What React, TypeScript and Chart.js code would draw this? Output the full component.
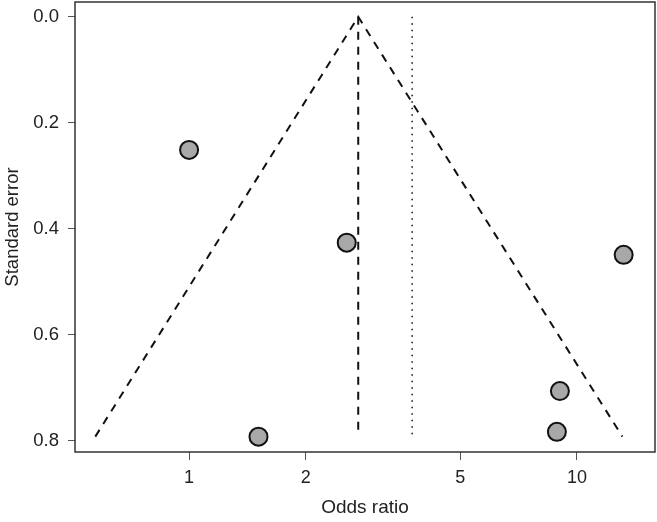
import React, { useEffect, useRef } from "react";
import { Chart, registerables } from "chart.js";

Chart.register(...registerables);

const studyOR = [1.0, 2.55, 13.2, 1.51, 9.04, 8.88];
const studySE = [0.251, 0.426, 0.449, 0.792, 0.706, 0.783];
const funnelOR = [0.573, 2.73, 13.1];
const funnelSE = [0.792, 0.0, 0.792];
const pooledOR = [2.73, 2.73];
const pooledSE = [0.0, 0.792];
const nullOR = [3.76, 3.76];
const nullSE = [0.0, 0.792];
const xTicks = [1, 2, 5, 10];
const yTicks = [0, 0.2, 0.4, 0.6, 0.8];

const FONT = "'Liberation Sans', Arial, Helvetica, sans-serif";

export default function App() {
  const ref = useRef<HTMLCanvasElement | null>(null);
  useEffect(() => {
    document.body.style.margin = "0";
    const ctx = ref.current!;
    const boxPlugin = {
      id: "box",
      afterDraw(chart: any) {
        const { ctx: c, chartArea: a } = chart;
        c.save();
        c.strokeStyle = "#333";
        c.lineWidth = 1.5;
        c.strokeRect(a.left, a.top, a.right - a.left, a.bottom - a.top);
        c.restore();
      },
    };
    const chart = new Chart(ctx, {
      type: "scatter",
      data: {
        datasets: [
          {
            data: studyOR.map((x, i) => ({ x, y: studySE[i] })),
            pointRadius: 9,
            pointBackgroundColor: "#a8a8a8",
            pointBorderColor: "#111",
            pointBorderWidth: 2,
            order: 0,
          },
          {
            type: "line",
            data: funnelOR.map((x, i) => ({ x, y: funnelSE[i] })),
            borderColor: "#111",
            borderWidth: 2,
            borderDash: [8, 7],
            pointRadius: 0,
            fill: false,
            order: 1,
          },
          {
            type: "line",
            data: pooledOR.map((x, i) => ({ x, y: pooledSE[i] })),
            borderColor: "#111",
            borderWidth: 2,
            borderDash: [8, 7],
            pointRadius: 0,
            fill: false,
            order: 1,
          },
          {
            type: "line",
            data: nullOR.map((x, i) => ({ x, y: nullSE[i] })),
            borderColor: "#111",
            borderWidth: 1.5,
            borderDash: [1.5, 5],
            pointRadius: 0,
            fill: false,
            order: 1,
          },
        ],
      } as any,
      options: {
        animation: false,
        responsive: false,
        maintainAspectRatio: false,
        layout: { autoPadding: false, padding: { top: 2, right: 2, left: 0, bottom: 0 } },
        plugins: { legend: { display: false }, tooltip: { enabled: false } },
        scales: {
          x: {
            type: "logarithmic",
            min: 0.508,
            max: 15.9,
            afterBuildTicks: (s: any) => {
              s.ticks = xTicks.map((v) => ({ value: v }));
            },
            afterFit: (s: any) => {
              s.height = 70;
              s.paddingLeft = 0;
              s.paddingRight = 0;
            },
            ticks: {
              autoSkip: false,
              maxRotation: 0,
              color: "#222",
              font: { family: FONT, size: 18 },
              padding: 7,
              callback: (v: any) => String(v),
            },
            grid: {
              drawOnChartArea: false,
              drawTicks: true,
              tickLength: 8,
              color: "#555",
            },
            border: { display: false },
            title: {
              display: true,
              text: "Odds ratio",
              color: "#222",
              font: { family: FONT, size: 19 },
              padding: { top: 0, bottom: 3 },
            },
          },
          y: {
            type: "linear",
            reverse: true,
            min: -0.028,
            max: 0.821,
            afterBuildTicks: (s: any) => {
              s.ticks = yTicks.map((v) => ({ value: v }));
            },
            afterFit: (s: any) => {
              s.width = 75;
              s.paddingTop = 0;
              s.paddingBottom = 0;
            },
            ticks: {
              autoSkip: false,
              color: "#222",
              font: { family: FONT, size: 18.5 },
              padding: 9,
              callback: (v: any) => Number(v).toFixed(1),
            },
            grid: {
              drawOnChartArea: false,
              drawTicks: true,
              tickLength: 7,
              color: "#555",
            },
            border: { display: false },
            title: {
              display: true,
              text: "Standard error",
              color: "#222",
              font: { family: FONT, size: 18.5 },
              padding: { top: 2, bottom: 0 },
            },
          },
        },
      } as any,
      plugins: [boxPlugin],
    });
    return () => chart.destroy();
  }, []);
  return (
    <div style={{ width: 657, height: 522 }}>
      <canvas ref={ref} width={657} height={522} style={{ display: "block" }} />
    </div>
  );
}
